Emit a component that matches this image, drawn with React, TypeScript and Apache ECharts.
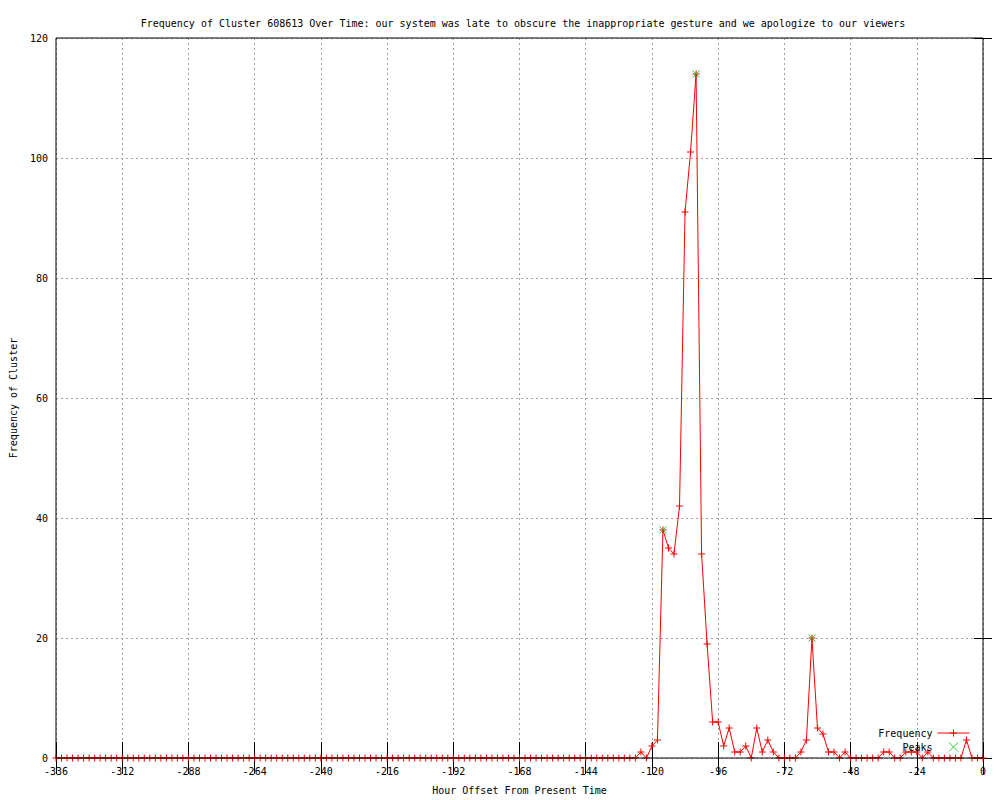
import React, { useEffect, useRef } from "react";
import * as echarts from "echarts";

const titleText =
  "Frequency of Cluster 608613 Over Time: our system was late to obscure the inappropriate gesture and we apologize to our viewers";
const xAxisName = "Hour Offset From Present Time";
const yAxisName = "Frequency of Cluster";
const seriesNames = ["Frequency", "Peaks"];

const startHour = -336;
const hourStep = 2;

// one value every 2 hours, from -336 to 0
const frequency = [
  0, 0, 0, 0, 0, 0, 0, 0, 0, 0,
  0, 0, 0, 0, 0, 0, 0, 0, 0, 0,
  0, 0, 0, 0, 0, 0, 0, 0, 0, 0,
  0, 0, 0, 0, 0, 0, 0, 0, 0, 0,
  0, 0, 0, 0, 0, 0, 0, 0, 0, 0,
  0, 0, 0, 0, 0, 0, 0, 0, 0, 0,
  0, 0, 0, 0, 0, 0, 0, 0, 0, 0,
  0, 0, 0, 0, 0, 0, 0, 0, 0, 0,
  0, 0, 0, 0, 0, 0, 0, 0, 0, 0,
  0, 0, 0, 0, 0, 0, 0, 0, 0, 0,
  0, 0, 0,
  0, 0, 0, 1, 0, 2, 3, 38, 35, 34,
  42, 91, 101, 114, 34, 19, 6, 6, 2, 5,
  1, 1, 2, 0, 5, 1, 3, 1, 0, 0,
  0, 0, 1, 3, 20, 5, 4, 1, 1, 0,
  1, 0, 0, 0, 0, 0, 0, 1, 1, 0,
  0, 1, 1, 1, 0, 1, 0, 0, 0, 0,
  0, 0, 3, 0, 0, 0,
];

const peakHours = [-116, -104, -62];
const peakValues = [38, 114, 20];

const xMin = -336;
const xMax = 0;
const xInterval = 24;
const yMin = 0;
const yMax = 120;
const yInterval = 20;

const FONT = "DejaVu Sans Mono";

export default function App() {
  const ref = useRef<HTMLDivElement>(null);

  useEffect(() => {
    if (!ref.current) return;
    const chart = echarts.init(ref.current, null, { renderer: "svg" });

    const freqData = frequency.map((v, i) => [startHour + i * hourStep, v]);
    const peakData = peakHours.map((h, i) => [h, peakValues[i]]);

    const splitLine = {
      show: true,
      lineStyle: { color: "#a0a0a0", width: 1, type: [2, 3] as any },
    };
    const textStyle = { fontFamily: FONT, fontSize: 10, color: "#000" };

    chart.setOption({
      animation: false,
      backgroundColor: "#fff",
      title: {
        text: titleText,
        left: 518,
        top: 13,
        textAlign: "center",
        textStyle: { ...textStyle, fontWeight: "normal" },
      },
      grid: {
        left: 55,
        right: 17,
        top: 38,
        bottom: 40,
        show: true,
        borderColor: "#000",
        borderWidth: 1,
        backgroundColor: "transparent",
        z: 10,
      },
      legend: {
        data: seriesNames,
        orient: "vertical",
        right: 30,
        top: 728,
        padding: 0,
        itemWidth: 32,
        itemHeight: 9,
        itemGap: 4,
        align: "right",
        textStyle,
        lineStyle: { width: 1 },
        itemStyle: { borderWidth: 1 },
      },
      xAxis: [
        {
          type: "value",
          position: "bottom",
          min: xMin,
          max: xMax,
          interval: xInterval,
          axisLine: { show: false },
          axisTick: { show: true, inside: true, length: 16, lineStyle: { color: "#000" } },
          axisLabel: { ...textStyle, margin: 8 },
          splitLine,
          name: xAxisName,
          nameLocation: "middle",
          nameGap: 27,
          nameTextStyle: textStyle,
        },
        {
          type: "value",
          position: "top",
          min: xMin,
          max: xMax,
          interval: xInterval,
          axisLine: { show: false },
          axisTick: { show: true, inside: true, length: 16, lineStyle: { color: "#000" } },
          axisLabel: { show: false },
          splitLine: { show: false },
        },
      ],
      yAxis: [
        {
          type: "value",
          position: "left",
          min: yMin,
          max: yMax,
          interval: yInterval,
          axisLine: { show: false },
          axisTick: { show: true, inside: true, length: 9, lineStyle: { color: "#000" } },
          axisLabel: { ...textStyle, margin: 8 },
          splitLine,
          name: yAxisName,
          nameLocation: "middle",
          nameGap: 38,
          nameTextStyle: textStyle,
        },
        {
          type: "value",
          position: "right",
          min: yMin,
          max: yMax,
          interval: yInterval,
          axisLine: { show: false },
          axisTick: { show: true, inside: true, length: 9, lineStyle: { color: "#000" } },
          axisLabel: { show: false },
          splitLine: { show: false },
        },
      ],
      series: [
        {
          name: seriesNames[0],
          type: "line",
          data: freqData,
          xAxisIndex: 0,
          yAxisIndex: 0,
          symbol: "path://M5,0L5,10M0,5L10,5",
          symbolSize: 7,
          showAllSymbol: true,
          clip: false,
          lineStyle: { color: "#ff0000", width: 1 },
          itemStyle: { color: "#ff0000", borderColor: "#ff0000", borderWidth: 1 },
          z: 2,
        },
        {
          name: seriesNames[1],
          type: "scatter",
          data: peakData,
          xAxisIndex: 0,
          yAxisIndex: 0,
          symbol: "path://M0,0L10,10M10,0L0,10",
          symbolSize: 7,
          clip: false,
          itemStyle: { color: "#00c000", borderColor: "#00c000", borderWidth: 1 },
          z: 3,
        },
      ],
    });

    return () => chart.dispose();
  }, []);

  return (
    <div
      ref={ref}
      style={{ position: "fixed", left: 0, top: 0, width: 1000, height: 800, background: "#fff" }}
    />
  );
}
